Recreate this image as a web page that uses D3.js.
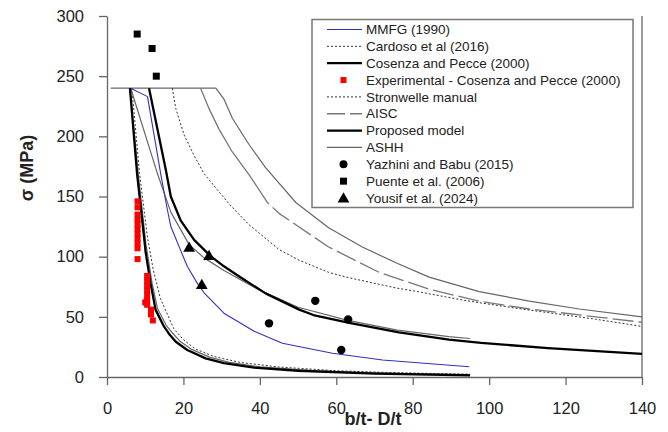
<!DOCTYPE html>
<html><head><meta charset="utf-8">
<script src="https://cdn.jsdelivr.net/npm/d3@7"></script>
<style>body{margin:0;background:#fff}svg{display:block}text{font-family:"Liberation Sans",Arial,sans-serif}</style>
</head><body><svg id="c" width="668" height="432"></svg>
<script>
// ---- data ----
const xTicks = [0,20,40,60,80,100,120,140];
const yTicks = [0,50,100,150,200,250,300];

const mmfg = [[6.2,240],[10.6,233],[14.1,168],[15.8,139],[16.7,125],[19.3,105],[21,92],[23.6,78],[25.4,70],[30.6,53],[38.5,38],[45.9,28],[59,19.7],[72.1,14.1],[94.8,8.5]];
const cardoso = [[17.1,240],[18,223],[20.2,201],[22.8,184],[25.4,169],[28.5,157],[31.9,144],[37,127],[45,106],[50.3,97],[58,87],[62.6,83],[75.6,74],[80.3,71.5],[93,64],[97.9,61.5],[110.5,55.6],[115.4,53.5],[127.9,48],[140,42]];
const cosenza = [[6,240],[7.9,168],[9.7,116],[10.1,104],[11.4,78],[12.7,56],[14.9,42],[16.2,36],[18,29.3],[21,22.4],[25.8,15.5],[30.6,11.6],[38.5,7.8],[50,5.2],[70,2.8],[95,1.3]];
const stronwelle = [[6.5,240],[8.5,170],[10.5,118],[12.1,89],[14,65],[17.5,40],[20,31],[23,23.5],[28,17],[35,12],[45,8.3],[60,5.2],[75,3.6],[95,2.3]];
const aisc = [[24.5,240],[26.7,223],[29.3,206],[32.8,187],[37.2,168],[42,145],[45,136],[58,108],[71.2,87],[84.3,73],[97.4,63],[110.5,56.5],[127.9,50],[140,45.5]];
const proposed = [[11,240],[15.4,172],[16.7,150],[19.3,130],[22.8,114],[27.1,100.5],[30.6,92],[34.6,83.5],[41.5,69.5],[50.3,56],[54,51.5],[63.4,45],[76.4,37],[89.5,31],[97.9,28.3],[115.4,24],[140,19.2]];
const ashhPlateau = [[1,240],[28.5,240],[30.6,231],[32.8,215],[37.2,193],[41.5,174],[49.4,145],[58,124],[66.8,108],[75.6,95],[84.3,83],[97.4,71],[110.5,63],[123.6,56.5],[140,50]];
const ashhMid = [[6.2,240],[13.1,170],[16.7,137],[21.5,110],[25.4,99],[30.6,88.5],[40,72],[50,58],[63,47],[76,39],[89.5,33.5],[95,32]];
const ashhSteep = [[6,240],[8.2,168],[10.2,110],[11.8,78],[13.2,57],[15.5,43],[17,37],[19,30],[22,23.2],[27,16.3],[32,12.2],[40,8.4],[55,5.2],[70,3.5],[95,1.9]];

const expX = [8,8,8,8,8,8,8,8,8,8,8, 10.5,10.5,10.5,10.5,10.5,10.5,10.5,10,11.5,11.5,12];
const expY = [146,141,135,131,127,123,119,115,111,107,98, 84,80,76,72,68,64,60,62,56,52,47];
const yazhiniX = [42.4,54.5,63.1,61.3];
const yazhiniY = [44.6,63.3,47.9,22.4];
const puenteX = [7.9,11.8,12.9];
const puenteY = [285,273,250];
const yousifX = [21.5,26.7,24.8];
const yousifY = [107,100,76];

const legendLabels = ["MMFG (1990)","Cardoso et al  (2016)","Cosenza and Pecce (2000)","Experimental - Cosenza and Pecce (2000)","Stronwelle manual","AISC","Proposed model","ASHH"," Yazhini and Babu (2015)","Puente et al. (2006)","Yousif et al. (2024)"];

// ---- drawing ----
const svg = d3.select("#c");
const x = d3.scaleLinear([0,140],[107,642]);
const y = d3.scaleLinear([0,300],[377,16]);
const line = d3.line().x(d=>x(d[0])).y(d=>y(d[1]));

const styles = {
  blue:{stroke:"#3030c0",w:1.1,dash:null},
  dot:{stroke:"#333",w:1,dash:"2,2"},
  thick:{stroke:"#000",w:2.3,dash:null},
  longdash:{stroke:"#777",w:1.3,dash:"21,5"},
  gray:{stroke:"#666",w:1.2,dash:null}
};
function curve(data, st, solidStart){
  const p = svg.append("path").attr("d", line(data)).attr("fill","none")
    .attr("stroke", st.stroke).attr("stroke-width", st.w)
    .attr("stroke-linejoin","round");
  if(st.dash){
    if(solidStart){
      const L = p.node().getTotalLength();
      const parts = [solidStart, 5];
      let acc = solidStart + 5;
      const pat = st.dash.split(",").map(Number);
      while(acc < L){ parts.push(pat[0], pat[1]); acc += pat[0]+pat[1]; }
      p.attr("stroke-dasharray", parts.join(","));
    } else p.attr("stroke-dasharray", st.dash);
  }
}

// axes
const axisColor = "#666";
const gx = svg.append("g").attr("transform",`translate(0,${y(0)})`)
  .call(d3.axisBottom(x).tickValues(xTicks).tickSize(8).tickSizeOuter(0).tickPadding(17));
const gy = svg.append("g").attr("transform",`translate(${x(0)},0)`)
  .call(d3.axisLeft(y).tickValues(yTicks).tickSize(8).tickSizeOuter(0).tickPadding(15));
[gx,gy].forEach(g=>{
  g.selectAll("path,line").attr("stroke",axisColor).attr("stroke-width",1.3);
  g.selectAll("text").attr("font-size",16.5).attr("fill","#222").attr("font-family",'"Liberation Sans",Arial,sans-serif');
});
// right frame
svg.append("line").attr("x1",x(140)).attr("x2",x(140)).attr("y1",y(300)).attr("y2",y(0))
  .attr("stroke",axisColor).attr("stroke-width",1.3);

curve(ashhPlateau, styles.gray);
curve(aisc, styles.longdash, 135);
curve(cardoso, styles.dot);
curve(ashhSteep, styles.gray);
curve(stronwelle, styles.dot);
curve(ashhMid, styles.gray);
curve(mmfg, styles.blue);
curve(cosenza, styles.thick);
curve(proposed, styles.thick);

// markers
svg.append("g").selectAll("rect").data(expX.map((v,i)=>[v,expY[i]])).join("rect")
  .attr("x",d=>x(d[0])-3).attr("y",d=>y(d[1])-3).attr("width",6).attr("height",6).attr("fill","#f00");
svg.append("g").selectAll("circle").data(yazhiniX.map((v,i)=>[v,yazhiniY[i]])).join("circle")
  .attr("cx",d=>x(d[0])).attr("cy",d=>y(d[1])).attr("r",4.2).attr("fill","#000");
svg.append("g").selectAll("rect").data(puenteX.map((v,i)=>[v,puenteY[i]])).join("rect")
  .attr("x",d=>x(d[0])-3.5).attr("y",d=>y(d[1])-3.5).attr("width",7).attr("height",7).attr("fill","#000");
const tri = d3.symbol().type(d3.symbolTriangle).size(60);
svg.append("g").selectAll("path").data(yousifX.map((v,i)=>[v,yousifY[i]])).join("path")
  .attr("d",tri).attr("transform",d=>`translate(${x(d[0])},${y(d[1])})`).attr("fill","#000");

// axis titles
svg.append("text").attr("transform","translate(33,168) rotate(-90)").attr("text-anchor","middle")
  .attr("font-size",18).attr("font-weight","bold").attr("fill","#222").text("σ (MPa)");
svg.append("text").attr("x",373).attr("y",425).attr("text-anchor","middle")
  .attr("font-size",18).attr("font-weight","bold").attr("fill","#222").text("b/t- D/t");

// legend
const lg = svg.append("g");
lg.append("rect").attr("x",312).attr("y",19.5).attr("width",321).attr("height",188)
  .attr("fill","#fff").attr("stroke","#777").attr("stroke-width",1.5);
const legStyles = ["blue","dot","thick","exp","dot","longdash","thick","gray","circle","square","tri"];
legendLabels.forEach((lab,i)=>{
  const cy = 29.5 + i*16.85;
  const s = legStyles[i];
  if(styles[s]){
    const dash = s==="longdash" ? "18,5" : styles[s].dash;
    lg.append("line").attr("x1",327).attr("x2",362).attr("y1",cy).attr("y2",cy)
      .attr("stroke",styles[s].stroke).attr("stroke-width",styles[s].w).attr("stroke-dasharray",dash);
  } else if(s==="exp"){
    lg.append("rect").attr("x",340.5).attr("y",cy-3).attr("width",6).attr("height",6).attr("fill","#f00");
  } else if(s==="circle"){
    lg.append("circle").attr("cx",343.5).attr("cy",cy).attr("r",4).attr("fill","#000");
  } else if(s==="square"){
    lg.append("rect").attr("x",340).attr("y",cy-3.5).attr("width",7).attr("height",7).attr("fill","#000");
  } else if(s==="tri"){
    lg.append("path").attr("d",tri).attr("transform",`translate(343.5,${cy+1})`).attr("fill","#000");
  }
  lg.append("text").attr("x",366).attr("y",cy+4.6).attr("font-size",13.5).attr("fill","#222").text(lab);
});
</script></body></html>
